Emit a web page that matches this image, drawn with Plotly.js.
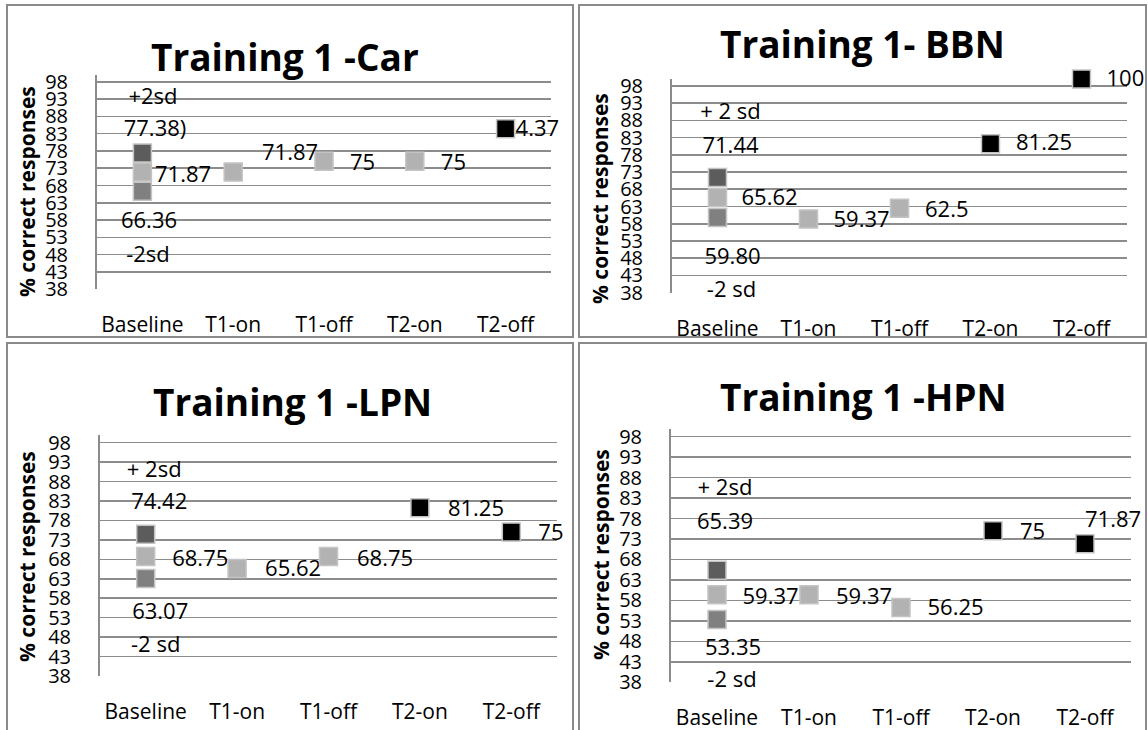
<!DOCTYPE html>
<html><head><meta charset="utf-8">
<script src="https://cdn.plot.ly/plotly-3.0.1.min.js"></script>
<style>html,body{margin:0;padding:0;background:#fff;} #chart{width:1148px;height:730px;}</style>
</head><body><div id="chart"></div>
<script>
// ---------- DATA ----------
const categories = ['Baseline', 'T1-on', 'T1-off', 'T2-on', 'T2-off'];
const yTicks = [38, 43, 48, 53, 58, 63, 68, 73, 78, 83, 88, 93, 98];
const panelTitles = ['Training 1 -Car', 'Training 1- BBN', 'Training 1 -LPN', 'Training 1 -HPN'];
const yAxisTitle = '% correct responses';

// Baseline: [+2sd bound, mean, -2sd bound]
const carBaseline = [77.38, 71.87, 66.36];
const bbnBaseline = [71.44, 65.62, 59.80];
const lpnBaseline = [74.42, 68.75, 63.07];
const hpnBaseline = [65.39, 59.37, 53.35];

// T1-on, T1-off, T2-on, T2-off
const carTraining = [71.87, 75, 75, 84.37];
const bbnTraining = [59.37, 62.5, 81.25, 100];
const lpnTraining = [65.62, 68.75, 81.25, 75];
const hpnTraining = [59.37, 56.25, 75, 71.87];

// text labels: baseline upper, mean, lower, then T1-on, T1-off, T2-on, T2-off
const carValueLabels = ['77.38)', '71.87', '66.36', '71.87', '75', '75', '84.37'];
const bbnValueLabels = ['71.44', '65.62', '59.80', '59.37', '62.5', '81.25', '100'];
const lpnValueLabels = ['74.42', '68.75', '63.07', '65.62', '68.75', '81.25', '75'];
const hpnValueLabels = ['65.39', '59.37', '53.35', '59.37', '56.25', '75', '71.87'];

const carSdLabels = ['+2sd', '-2sd'];
const bbnSdLabels = ['+ 2 sd', '-2 sd'];
const lpnSdLabels = ['+ 2sd', '-2 sd'];
const hpnSdLabels = ['+ 2sd', '-2 sd'];

// ---------- STYLE / LAYOUT ----------
const W = 1148, H = 730;
const FONT = 'Open Sans, Noto Sans, sans-serif';
const DARK = '#5c5c5c', LIGHT = '#b2b2b2', MID = '#808080', BLACK = '#000000';
const baseColors = [DARK, LIGHT, MID];
const GRID = '#8c8c8c';

// label placement: [category index, x shift px, y (axis units), anchor l/c]
// order: sd upper, base upper, base mean, base lower, sd lower, T1-on, T1-off, T2-on, T2-off
const carPlace = [[0,10.6,93.2,'c'],[0,12.6,84.0,'c'],[0,12.6,70.5,'l'],[0,6.6,57.3,'c'],[0,5.6,47.4,'c'],
                  [1,28.8,77.1,'l'],[2,26,74.2,'l'],[3,26,74.2,'l'],[4,-2.6,84.0,'l']];
const bbnPlace = [[0,13,90.1,'c'],[0,13,80.2,'c'],[0,24,64.9,'l'],[0,15,48.0,'c'],[0,14,38.3,'c'],
                  [1,25,58.6,'l'],[2,25.5,61.5,'l'],[3,25.5,80.9,'l'],[4,25,99.7,'l']];
const lpnPlace = [[0,8.5,90.5,'c'],[0,13.5,82.4,'c'],[0,26.5,67.8,'l'],[0,14.5,54.1,'c'],[0,10,45.5,'c'],
                  [1,28,65.0,'l'],[2,28.5,67.8,'l'],[3,28,80.5,'l'],[4,27,74.3,'l']];
const hpnPlace = [[0,8,85.0,'c'],[0,8,76.8,'c'],[0,25.5,58.5,'l'],[0,16,45.9,'c'],[0,15,38.1,'c'],
                  [1,27,58.5,'l'],[2,26.5,55.7,'l'],[3,27,74.4,'l'],[4,0,77.2,'l']];

const panels = [
  {title: panelTitles[0], base: carBaseline, train: carTraining, vl: carValueLabels, sd: carSdLabels, place: carPlace,
   trainColors: [LIGHT, LIGHT, LIGHT, BLACK], geo: {x0: 97, x1: 551, yBot: 289.3, yTop: 74.8},
   titlePos: [285, 56.7], yTitlePos: [27, 192], box: [7, 5, 573, 337]},
  {title: panelTitles[1], base: bbnBaseline, train: bbnTraining, vl: bbnValueLabels, sd: bbnSdLabels, place: bbnPlace,
   trainColors: [LIGHT, LIGHT, BLACK, BLACK], geo: {x0: 672, x1: 1127, yBot: 292.6, yTop: 79.1},
   titlePos: [862, 43], yTitlePos: [600, 199], box: [579, 5, 1146, 337]},
  {title: panelTitles[2], base: lpnBaseline, train: lpnTraining, vl: lpnValueLabels, sd: lpnSdLabels, place: lpnPlace,
   trainColors: [LIGHT, LIGHT, BLACK, BLACK], geo: {x0: 100, x1: 557, yBot: 676, yTop: 434.9},
   titlePos: [292, 401.5], yTitlePos: [27, 557], box: [7, 343, 573, 740]},
  {title: panelTitles[3], base: hpnBaseline, train: hpnTraining, vl: hpnValueLabels, sd: hpnSdLabels, place: hpnPlace,
   trainColors: [LIGHT, LIGHT, BLACK, BLACK], geo: {x0: 671, x1: 1131, yBot: 682.3, yTop: 428.5},
   titlePos: [863, 396], yTitlePos: [601, 555], box: [579, 343, 1146, 740]}
];

const traces = [];
const layout = {
  width: W, height: H, autosize: false,
  margin: {l: 0, r: 0, t: 0, b: 0},
  paper_bgcolor: '#ffffff', plot_bgcolor: 'rgba(0,0,0,0)',
  showlegend: false,
  font: {family: FONT, color: '#000'},
  annotations: [], shapes: []
};

panels.forEach((p, i) => {
  const n = i + 1;
  const xa = 'x' + (n === 1 ? '' : n), ya = 'y' + (n === 1 ? '' : n);
  const xKey = 'xaxis' + (n === 1 ? '' : n), yKey = 'yaxis' + (n === 1 ? '' : n);
  const g = p.geo;
  const pxPerCat = (g.x1 - g.x0) / categories.length;

  layout[xKey] = {
    domain: [g.x0 / W, g.x1 / W], anchor: ya, range: [-0.5, 4.5],
    tickvals: categories.map((c, k) => k), ticktext: categories,
    showgrid: false, zeroline: false, showline: false, ticks: '',
    ticklabelstandoff: 21,
    tickfont: {family: FONT, size: 21, color: '#000'}, fixedrange: true
  };
  layout[yKey] = {
    domain: [1 - g.yBot / H, 1 - g.yTop / H], anchor: xa, range: [38, 100],
    tickvals: yTicks, ticktext: yTicks.map(String),
    showgrid: true, gridcolor: GRID, gridwidth: 1.6,
    showline: true, linecolor: GRID, linewidth: 2, zeroline: false, ticks: '',
    ticklabelstandoff: 23,
    tickfont: {family: FONT, size: 20, color: '#000'}, fixedrange: true
  };

  // labels (drawn first so markers sit on top)
  const texts = [p.sd[0], p.vl[0], p.vl[1], p.vl[2], p.sd[1], p.vl[3], p.vl[4], p.vl[5], p.vl[6]];
  traces.push({
    type: 'scatter', mode: 'text', xaxis: xa, yaxis: ya, cliponaxis: false, hoverinfo: 'skip',
    x: p.place.map(q => q[0] + q[1] / pxPerCat),
    y: p.place.map(q => q[2]),
    text: texts,
    textposition: p.place.map(q => q[3] === 'l' ? 'middle right' : 'middle center'),
    textfont: {family: FONT, size: 22, color: '#000'}
  });
  // baseline markers
  traces.push({
    type: 'scatter', mode: 'markers', xaxis: xa, yaxis: ya, cliponaxis: false,
    x: p.base.map(() => 0), y: p.base,
    marker: {symbol: 'square', size: 18, color: baseColors, line: {color: '#c4c4c4', width: 1.5}}
  });
  // training markers
  traces.push({
    type: 'scatter', mode: 'markers', xaxis: xa, yaxis: ya, cliponaxis: false,
    x: p.train.map((v, k) => k + 1), y: p.train,
    marker: {symbol: 'square', size: 18, color: p.trainColors, line: {color: '#c4c4c4', width: 1.5}}
  });

  layout.annotations.push({
    xref: 'paper', yref: 'paper', x: p.titlePos[0] / W, y: 1 - p.titlePos[1] / H,
    xanchor: 'center', yanchor: 'middle', showarrow: false, text: p.title,
    font: {family: FONT, size: 37, color: '#000', weight: 'bold'}
  });
  layout.annotations.push({
    xref: 'paper', yref: 'paper', x: p.yTitlePos[0] / W, y: 1 - p.yTitlePos[1] / H,
    xanchor: 'center', yanchor: 'middle', showarrow: false, text: yAxisTitle, textangle: -90,
    font: {family: FONT, size: 21, color: '#000', weight: 'bold'}
  });
  layout.shapes.push({
    type: 'rect', xref: 'paper', yref: 'paper', layer: 'below',
    x0: p.box[0] / W, x1: p.box[2] / W, y0: 1 - p.box[3] / H, y1: 1 - p.box[1] / H,
    line: {color: '#8a8a8a', width: 2}, fillcolor: 'rgba(0,0,0,0)'
  });
});

Plotly.newPlot('chart', traces, layout, {displayModeBar: false, staticPlot: true});
</script>
</body></html>
